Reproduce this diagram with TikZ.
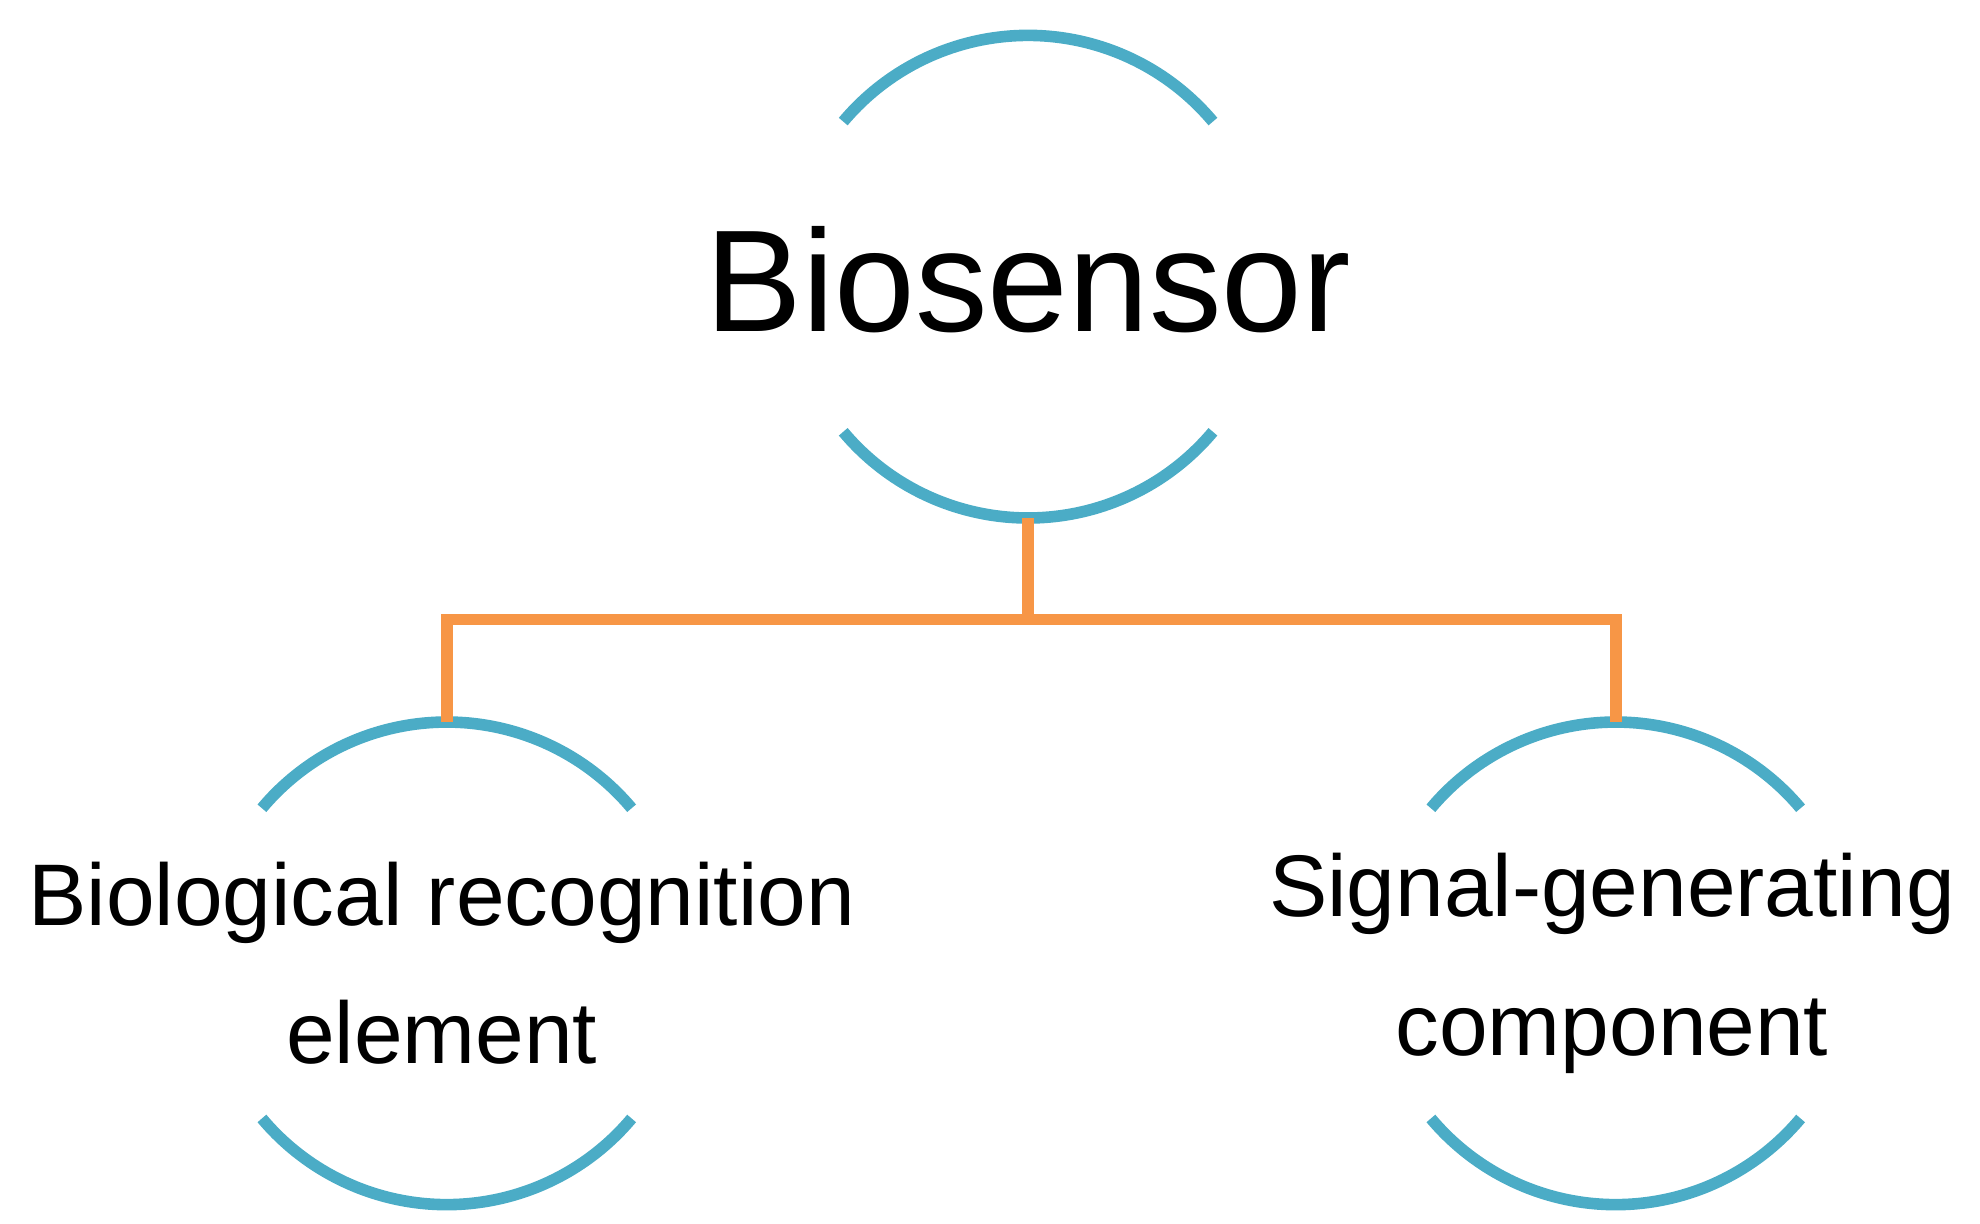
\documentclass[tikz,border=0pt]{standalone}
\usepackage{fontspec}
\setmainfont{Liberation Sans}
\definecolor{arcblue}{HTML}{4BACC6}
\definecolor{linkorange}{HTML}{F79646}
\begin{document}
\begin{tikzpicture}[%
  part/.style = {inner sep = 0pt, align = center},
  arc/.style = {draw = arcblue, line width = 2.6pt},
  link/.style = {draw = linkorange, line width = 2.6pt},
  x = 0.01cm, y = -0.01cm]
  \useasboundingbox (0, 0) rectangle (1560, 964);
  \node[part, font = \fontsize{32.5}{40}\selectfont] (bio) at (810, 220) {Biosensor};
  \node[part, font = \fontsize{19.6}{31}\selectfont] (rec) at (348, 759) {Biological recognition\\element};
  \node[part, font = \fontsize{19.6}{31}\selectfont] (sig) at (1270, 759) {Signal-generating\\component};

  % arcs around each part
  \foreach \cx/\cy in {810/218, 352/759, 1273/759} {
    \draw[arc] (\cx, \cy) ++(40:1.9cm) arc (40:140:1.9cm);
    \draw[arc] (\cx, \cy) ++(-40:1.9cm) arc (-40:-140:1.9cm);
  }
  \coordinate (biobot) at (810, 408);
  \coordinate (rectop) at (352, 569);
  \coordinate (sigtop) at (1273, 569);

  \draw[link] (biobot) -- ++(0, 80) coordinate (fork);
  \draw[link] (fork) -| (rectop);
  \draw[link] (fork) -| (sigtop);
\end{tikzpicture}
\end{document}
